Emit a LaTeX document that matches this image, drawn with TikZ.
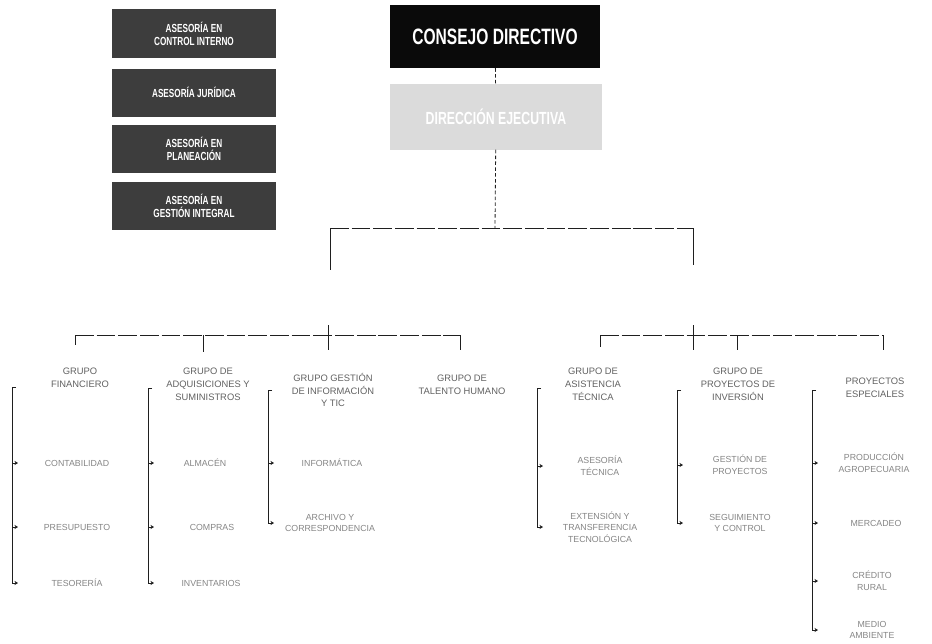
\documentclass[tikz,border=0pt]{standalone}
\usepackage{fontspec}
\setmainfont{Liberation Sans}
\newfontfamily\condfont{Liberation Sans}[FakeStretch=0.7]
\usetikzlibrary{arrows.meta}
\definecolor{asesoria}{gray}{0.24}
\definecolor{consejo}{gray}{0.04}
\definecolor{direccion}{gray}{0.86}
\definecolor{linea}{gray}{0.12}
\definecolor{textogrupo}{gray}{0.38}
\definecolor{textohoja}{gray}{0.52}

\begin{document}
\begin{tikzpicture}[x=0.03cm,y=-0.03cm,
	asesor/.style={fill=asesoria,text=white,minimum width=4.92cm,minimum height=1.44cm,align=center,font=\condfont\bfseries\fontsize{10}{11}\selectfont},
	jefe/.style={fill=consejo,text=white,minimum width=6.3cm,minimum height=1.89cm,font=\condfont\bfseries\fontsize{19}{20}\selectfont},
	segundo/.style={fill=direccion,text=white,minimum width=6.36cm,minimum height=1.98cm,font=\condfont\bfseries\fontsize{15}{16}\selectfont},
	grupo/.style={text=textogrupo,align=center,font=\fontsize{8}{11}\selectfont},
	hoja/.style={text=textohoja,align=center,font=\fontsize{7.5}{10}\selectfont},
	rama/.style={draw=linea,line width=0.7pt},
	barra/.style={rama,dash pattern=on 16pt off 2.5pt},
	flecha/.style={rama,-{Stealth[length=3pt,width=3.5pt]}}]
	\useasboundingbox (0,0) rectangle (932,643);
	% asesorias
	\node[asesor] (ctrlint) at (194,33.5) {ASESORÍA EN\\CONTROL INTERNO};
	\node[asesor] (juridica) at (194,92.5) {ASESORÍA JURÍDICA};
	\node[asesor] (planea) at (194,148.5) {ASESORÍA EN\\PLANEACIÓN};
	\node[asesor] (gestint) at (194,205.5) {ASESORÍA EN\\GESTIÓN INTEGRAL};
	% cabeza
	\node[jefe] (consejo) at (495,36.5) {CONSEJO DIRECTIVO};
	\node[segundo] (direc) at (496,116.5) {DIRECCIÓN EJECUTIVA};
	\draw[rama,densely dashed] (consejo) -- (direc);
	\coordinate (centro) at (495,228);
	\coordinate (izq) at (330,228);
	\coordinate (der) at (693,228);
	\draw[rama,densely dashed] (direc) -- (centro);
	\draw[barra] (izq) -- (der);
	\draw[rama] (izq) -- ++(0,42);
	\draw[rama] (der) -- ++(0,37);
	% rama izquierda
	\coordinate (t1) at (75,335);
	\coordinate (t2) at (203,335);
	\coordinate (t3) at (328,335);
	\coordinate (t4) at (460,335);
	\draw[barra] (t1) -- (t4);
	\draw[rama] (t1) -- ++(0,10);
	\draw[rama] (t2) -- ++(0,17);
	\draw[rama] (t3) ++(0,-10) -- ++(0,25);
	\draw[rama] (t4) -- ++(0,15);
	\node[grupo] (financ) at (80,378) {GRUPO\\FINANCIERO};
	\node[grupo] (adquis) at (208,384) {GRUPO DE\\ADQUISICIONES Y\\SUMINISTROS};
	\node[grupo] (tic) at (333,390) {GRUPO GESTIÓN\\DE INFORMACIÓN\\Y TIC};
	\node[grupo] (talento) at (462,385) {GRUPO DE\\TALENTO HUMANO};
	% rama derecha
	\coordinate (t5) at (600,335);
	\coordinate (t6) at (693,335);
	\coordinate (t7) at (737,335);
	\coordinate (t8) at (883,335);
	\draw[barra] (t5) -- (t8);
	\draw[rama] (t5) -- ++(0,12);
	\draw[rama] (t6) ++(0,-10) -- ++(0,25);
	\draw[rama] (t7) -- ++(0,15);
	\draw[rama] (t8) -- ++(0,15);
	\node[grupo] (tecnica) at (593,384) {GRUPO DE\\ASISTENCIA\\TÉCNICA};
	\node[grupo] (proyec) at (738,384) {GRUPO DE\\PROYECTOS DE\\INVERSIÓN};
	\node[grupo] (especial) at (875,388) {PROYECTOS\\ESPECIALES};
	% hojas
	\node[hoja] (contab) at (77,463) {CONTABILIDAD};
	\node[hoja] (presup) at (77,527) {PRESUPUESTO};
	\node[hoja] (tesor) at (77,583) {TESORERÍA};
	\node[hoja] (almacen) at (205,463) {ALMACÉN};
	\node[hoja] (compras) at (212,527) {COMPRAS};
	\node[hoja] (invent) at (211,583) {INVENTARIOS};
	\node[hoja] (informa) at (332,463) {INFORMÁTICA};
	\node[hoja] (archivo) at (330,523) {ARCHIVO Y\\CORRESPONDENCIA};
	\node[hoja] (asistec) at (600,466) {ASESORÍA\\TÉCNICA};
	\node[hoja] (extens) at (600,527) {EXTENSIÓN Y\\TRANSFERENCIA\\TECNOLÓGICA};
	\node[hoja] (gestproy) at (740,465) {GESTIÓN DE\\PROYECTOS};
	\node[hoja] (seguim) at (740,523) {SEGUIMIENTO\\Y CONTROL};
	\node[hoja] (produc) at (874,463) {PRODUCCIÓN\\AGROPECUARIA};
	\node[hoja] (mercadeo) at (876,523) {MERCADEO};
	\node[hoja] (credito) at (872,581) {CRÉDITO\\RURAL};
	\node[hoja] (ambiente) at (872,630) {MEDIO\\AMBIENTE};
	% corchetes
	\coordinate (b1) at (12,387);
	\coordinate (b2) at (148,388);
	\coordinate (b3) at (268,390);
	\coordinate (b5) at (537,388);
	\coordinate (b6) at (677,390);
	\coordinate (b7) at (812,390);
	\draw[rama] (b1) ++(4,0) -- (b1) -- (b1 |- tesor);
	\draw[rama] (b2) ++(4,0) -- (b2) -- (b2 |- invent);
	\draw[rama] (b3) ++(4,0) -- (b3) -- (b3 |- archivo);
	\draw[rama] (b5) ++(4,0) -- (b5) -- (b5 |- extens);
	\draw[rama] (b6) ++(4,0) -- (b6) -- (b6 |- seguim);
	\draw[rama] (b7) ++(4,0) -- (b7) -- (b7 |- ambiente);
	\foreach \h in {contab,presup,tesor} \draw[flecha] (b1 |- \h) -- ++(6,0);
	\foreach \h in {almacen,compras,invent} \draw[flecha] (b2 |- \h) -- ++(6,0);
	\foreach \h in {informa,archivo} \draw[flecha] (b3 |- \h) -- ++(6,0);
	\foreach \h in {asistec,extens} \draw[flecha] (b5 |- \h) -- ++(6,0);
	\foreach \h in {gestproy,seguim} \draw[flecha] (b6 |- \h) -- ++(6,0);
	\foreach \h in {produc,mercadeo,credito,ambiente} \draw[flecha] (b7 |- \h) -- ++(6,0);
\end{tikzpicture}
\end{document}
